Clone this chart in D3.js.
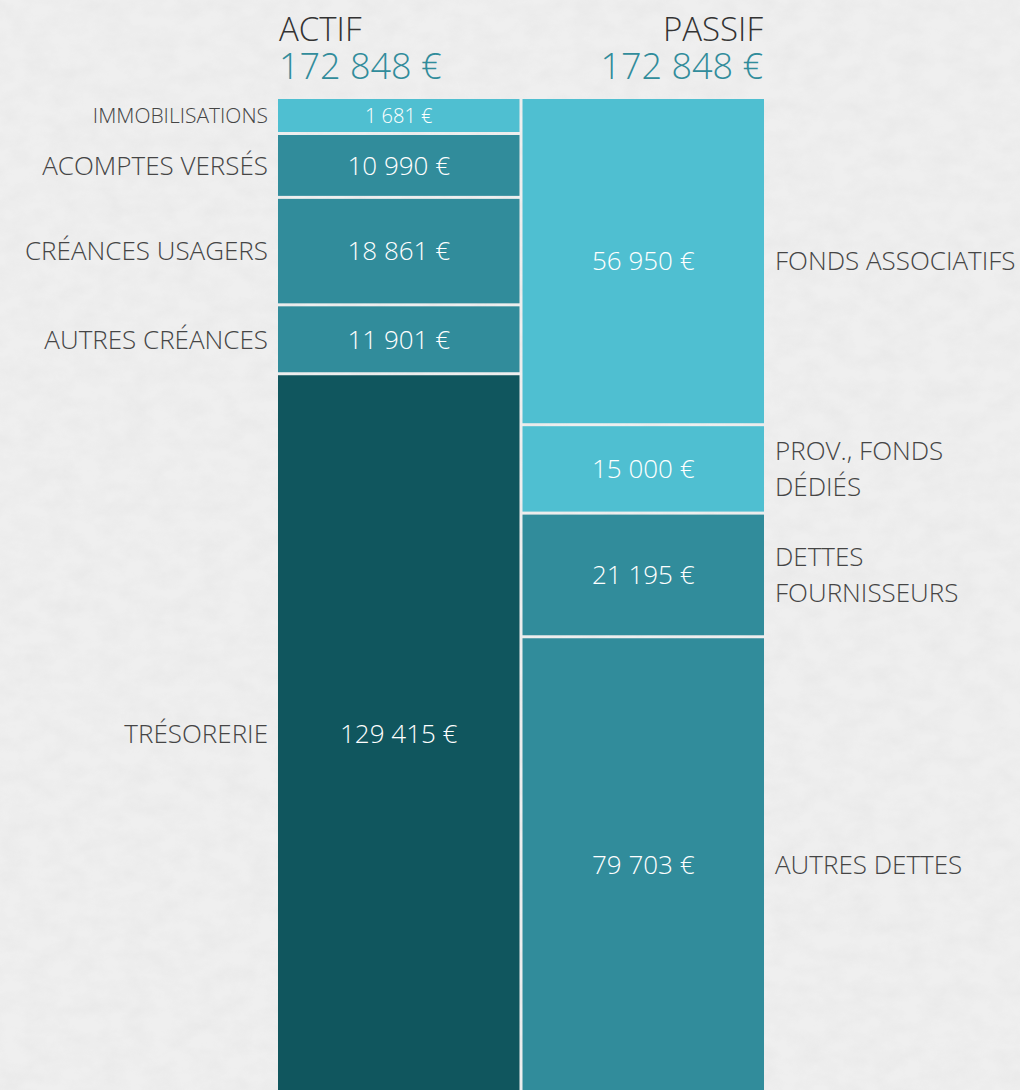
<!DOCTYPE html>
<html>
<head>
<meta charset="utf-8">
<script src="https://cdn.jsdelivr.net/npm/d3@7"></script>
<style>
  html, body { margin: 0; padding: 0; background: #eeeeee; }
  #chart { width: 1020px; height: 1090px; }
  text { font-family: "Open Sans", "Segoe UI", sans-serif; font-weight: 300; }
</style>
</head>
<body>
<div id="chart"></div>
<script>
// Data
const actifLabels = [["IMMOBILISATIONS"], ["ACOMPTES VERSÉS"], ["CRÉANCES USAGERS"], ["AUTRES CRÉANCES"], ["TRÉSORERIE"]];
const actifValues = [1681, 10990, 18861, 11901, 129415];
const actifTones = ["light", "mid", "mid", "mid", "dark"];

const passifLabels = [["FONDS ASSOCIATIFS"], ["PROV., FONDS", "DÉDIÉS"], ["DETTES", "FOURNISSEURS"], ["AUTRES DETTES"]];
const passifValues = [56950, 15000, 21195, 79703];
const passifTones = ["light", "light", "mid", "mid"];

const columnTitles = ["ACTIF", "PASSIF"];
const columnTotals = [172848, 172848];

const tone = d3.scaleOrdinal()
    .domain(["light", "mid", "dark"])
    .range(["#4fbfd1", "#318c9b", "#10565e"]);

const euro = v => d3.format(",")(v).replace(/,/g, " ") + " €";

const width = 1020, height = 1090;
const colTop = 99, colBottom = 1092;   // columns run past the bottom edge a little
const gap = 3;
const minH = 33;                 // tiny amounts still get a readable box
const smallLimit = 5000;

const svg = d3.select("#chart")
    .append("svg")
    .attr("width", width)
    .attr("height", height);

// paper-ish background
const defs = svg.append("defs");
const grain = defs.append("filter").attr("id", "grain")
    .attr("x", 0).attr("y", 0).attr("width", "100%").attr("height", "100%");
grain.append("feTurbulence")
    .attr("type", "fractalNoise")
    .attr("baseFrequency", "0.04 0.06")
    .attr("numOctaves", 4)
    .attr("seed", 7);
grain.append("feColorMatrix")
    .attr("type", "matrix")
    .attr("values", "0 0 0 0 0.55  0 0 0 0 0.55  0 0 0 0 0.55  0 0 0 -1.1 0.75");

svg.append("rect")
    .attr("width", width)
    .attr("height", height)
    .attr("fill", "#efefef");
svg.append("rect")
    .attr("width", width)
    .attr("height", height)
    .attr("filter", "url(#grain)")
    .attr("opacity", 0.18);

// Column positions
const x = d3.scaleBand()
    .domain(columnTitles)
    .range([278, 764])
    .paddingInner(3 / 243);

function layout(values) {
    const nSmall = values.filter(v => v < smallLimit).length;
    const bigSum = d3.sum(values.filter(v => v >= smallLimit));
    const avail = (colBottom - colTop) - gap * (values.length - 1) - minH * nSmall;
    const y = d3.scaleLinear().domain([0, bigSum]).range([0, avail]);
    let pos = colTop;
    return values.map(v => {
        const h = v < smallLimit ? minH : y(v);
        const seg = { y0: pos, h: h, small: v < smallLimit };
        pos += h + gap;
        return seg;
    });
}

function drawColumn(title, labels, values, tones, side) {
    const segs = layout(values);
    const x0 = x(title);
    const bw = x.bandwidth();
    const data = values.map((v, i) => ({ value: v, label: labels[i], tone: tones[i], ...segs[i] }));

    const g = svg.append("g").attr("class", "col-" + title);

    g.selectAll("rect")
        .data(data)
        .enter()
        .append("rect")
        .attr("x", x0)
        .attr("y", d => d.y0)
        .attr("width", bw)
        .attr("height", d => d.h)
        .attr("fill", d => tone(d.tone));

    // values inside boxes
    g.selectAll("text.value")
        .data(data)
        .enter()
        .append("text")
        .attr("class", "value")
        .attr("x", x0 + bw / 2)
        .attr("y", d => d.y0 + d.h / 2)
        .attr("dy", "0.36em")
        .attr("text-anchor", "middle")
        .attr("fill", "#ffffff")
        .style("font-size", d => d.small ? "20px" : "26px")
        .text(d => euro(d.value));

    // category labels beside the column
    const lx = side === "left" ? x0 - 10 : x0 + bw + 11;
    const lineH = 36;
    const lab = g.selectAll("text.label")
        .data(data)
        .enter()
        .append("text")
        .attr("class", "label")
        .attr("text-anchor", side === "left" ? "end" : "start")
        .attr("fill", "#454545")
        .style("font-size", d => d.small ? "21px" : "26px");

    lab.selectAll("tspan")
        .data(d => d.label.map((t, i) => ({ t, i, n: d.label.length, cy: d.y0 + d.h / 2 })))
        .enter()
        .append("tspan")
        .attr("x", lx)
        .attr("y", l => l.cy + (l.i - (l.n - 1) / 2) * lineH)
        .attr("dy", "0.36em")
        .text(l => l.t);

    // header: title and total
    const hx = side === "left" ? x0 + 1 : x0 + bw - 1;
    const anchor = side === "left" ? "start" : "end";
    const k = columnTitles.indexOf(title);
    svg.append("text")
        .attr("x", hx)
        .attr("y", 41)
        .attr("text-anchor", anchor)
        .attr("fill", "#333333")
        .style("font-size", "33px")
        .text(title);
    svg.append("text")
        .attr("x", hx)
        .attr("y", 79)
        .attr("text-anchor", anchor)
        .attr("fill", "#318c9b")
        .style("font-size", "36px")
        .text(euro(columnTotals[k]));
}

drawColumn("ACTIF", actifLabels, actifValues, actifTones, "left");
drawColumn("PASSIF", passifLabels, passifValues, passifTones, "right");
</script>
</body>
</html>
